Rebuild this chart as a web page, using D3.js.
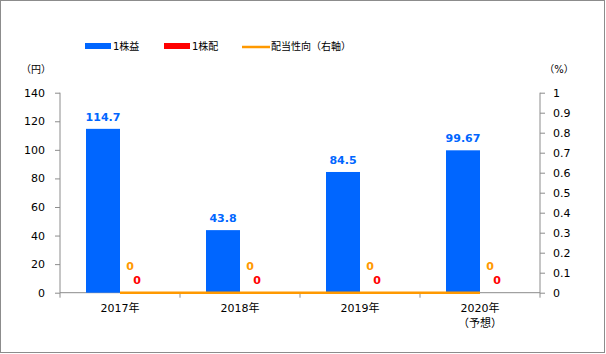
<!DOCTYPE html>
<html><head><meta charset="utf-8">
<script src="https://cdn.jsdelivr.net/npm/d3@7"></script>
<style>body{margin:0;background:#fff}svg{display:block}</style>
</head><body>
<script>
const categories = [["2017年"],["2018年"],["2019年"],["2020年","（予想）"]];
const eps = [114.7, 43.8, 84.5, 99.67];
const dps = [0, 0, 0, 0];
const payout = [0, 0, 0, 0];
const leftTicks = [0,20,40,60,80,100,120,140];
const rightTicks = [0,0.1,0.2,0.3,0.4,0.5,0.6,0.7,0.8,0.9,1];
const seriesNames = ["1株益","1株配","配当性向（右軸）"];
const colors = ["#0066FF","#FF0000","#FF9900"];

const W=606,H=354;
const svg=d3.select("body").append("svg").attr("width",W).attr("height",H);
const font="'DejaVu Sans','Noto Sans CJK JP',sans-serif";
svg.append("rect").attr("x",0.5).attr("y",0.5).attr("width",W-2).attr("height",H-2)
  .attr("fill","#fff").attr("stroke","#8c8c8c");

const x0=60,x1=540,yTop=92.7,yBot=292.7;
const idx=d3.range(categories.length);
const xb=d3.scaleBand().domain(idx).range([x0,x1]).paddingInner(0).paddingOuter(0);
const xs=d3.scaleBand().domain([0,1]).range([26,xb.bandwidth()-26]).paddingInner(0).paddingOuter(0);
const yL=d3.scaleLinear().domain([0,140]).range([yBot,yTop]);
const yR=d3.scaleLinear().domain([0,1]).range([yBot,yTop]);

// axes
const gL=svg.append("g").attr("transform",`translate(${x0},0)`)
  .call(d3.axisLeft(yL).tickValues(leftTicks).tickSize(5).tickPadding(10).tickFormat(d3.format("d")));
const gR=svg.append("g").attr("transform",`translate(${x1},0)`)
  .call(d3.axisRight(yR).tickValues(rightTicks).tickSize(5).tickPadding(8).tickFormat(d=>String(d)));
[gL,gR].forEach(g=>{
  g.select(".domain").attr("stroke","#8c8c8c").attr("d",`M0,${yTop}V${yBot}`);
  g.selectAll(".tick line").attr("stroke","#8c8c8c");
  g.selectAll("text").attr("font-family",font).attr("font-size",11).attr("fill","#000");
});

// x axis
const gX=svg.append("g").attr("transform",`translate(0,${yBot})`);
gX.append("line").attr("x1",x0).attr("x2",x1).attr("stroke","#8c8c8c");
d3.range(categories.length+1).forEach(i=>{
  const xx=x0+i*xb.bandwidth();
  gX.append("line").attr("x1",xx).attr("x2",xx).attr("y1",0).attr("y2",5).attr("stroke","#8c8c8c");
});
categories.forEach((c,i)=>{
  const t=gX.append("text").attr("x",xb(i)+xb.bandwidth()/2).attr("y",19).attr("text-anchor","middle")
    .attr("font-family",font).attr("font-size",11);
  c.forEach((s,j)=>t.append("tspan").attr("x",xb(i)+xb.bandwidth()/2).attr("dy",j?15:0).text(s));
});

// bars
svg.selectAll(".eps").data(eps).join("rect")
  .attr("x",(d,i)=>xb(i)+xs(0)).attr("width",xs.bandwidth())
  .attr("y",d=>yL(d)).attr("height",d=>yBot-yL(d)).attr("fill",colors[0]);
svg.selectAll(".dps").data(dps).join("rect")
  .attr("x",(d,i)=>xb(i)+xs(1)).attr("width",xs.bandwidth())
  .attr("y",d=>yL(d)).attr("height",d=>yBot-yL(d)).attr("fill",colors[1]);

// line
const line=d3.line().x((d,i)=>xb(i)+xb.bandwidth()/2).y(d=>yR(d));
svg.append("path").datum(payout).attr("d",line).attr("fill","none").attr("stroke",colors[2]).attr("stroke-width",2.5);

// labels
svg.selectAll(".le").data(eps).join("text")
  .attr("x",(d,i)=>xb(i)+xs(0)+xs.bandwidth()/2).attr("y",d=>yL(d)-8)
  .attr("text-anchor","middle").attr("font-family",font).attr("font-size",11).attr("font-weight","bold")
  .attr("fill",colors[0]).text(d=>d);
svg.selectAll(".ld").data(dps).join("text")
  .attr("x",(d,i)=>xb(i)+xs(1)+xs.bandwidth()/2).attr("y",d=>yL(d)-9)
  .attr("text-anchor","middle").attr("font-family",font).attr("font-size",11).attr("font-weight","bold")
  .attr("fill",colors[1]).text(d=>d);
svg.selectAll(".lp").data(payout).join("text")
  .attr("x",(d,i)=>xb(i)+xb.bandwidth()/2+10).attr("y",d=>yR(d)-23)
  .attr("text-anchor","middle").attr("font-family",font).attr("font-size",11).attr("font-weight","bold")
  .attr("fill",colors[2]).text(d=>d);

// unit labels
svg.append("text").attr("x",36).attr("y",73).attr("text-anchor","middle").attr("font-family",font).attr("font-size",10).text("（円）");
svg.append("text").attr("x",559).attr("y",73).attr("text-anchor","middle").attr("font-family",font).attr("font-size",10).text("（%）");

// legend
const leg=[85,164,242];
leg.forEach((lx,i)=>{
  if(i<2) svg.append("rect").attr("x",lx).attr("y",43).attr("width",26).attr("height",6).attr("fill",colors[i]);
  else svg.append("line").attr("x1",lx).attr("x2",lx+28).attr("y1",47).attr("y2",47).attr("stroke",colors[2]).attr("stroke-width",2.5);
  svg.append("text").attr("x",lx+(i<2?28:29)).attr("y",50).attr("font-family",font).attr("font-size",10).text(seriesNames[i]);
});
</script>
</body></html>
